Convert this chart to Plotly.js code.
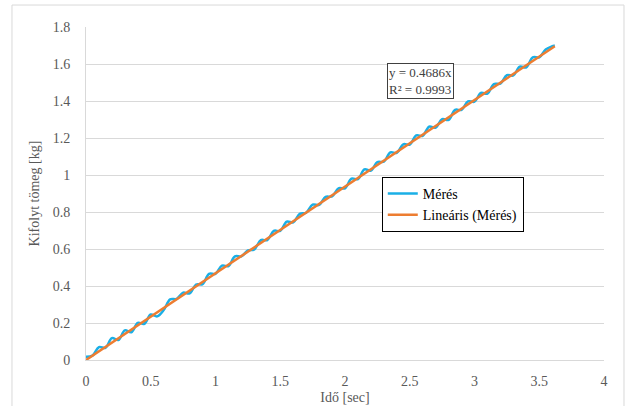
<!DOCTYPE html>
<html>
<head>
<meta charset="utf-8">
<script src="https://cdn.plot.ly/plotly-3.0.1.min.js"></script>
<style>html,body{margin:0;padding:0;background:#fff;}#chart{width:632px;height:406px;}</style>
</head>
<body>
<div id="chart"></div>
<script>
// Measured data (Idő [sec], Kifolyt tömeg [kg])
const timeSec = [0,0.05,0.1,0.15,0.2,0.25,0.3,0.35,0.4,0.45,0.5,0.55,0.6,0.65,0.7,0.75,0.8,0.85,0.9,0.95,
  1.0,1.05,1.1,1.15,1.2,1.25,1.3,1.35,1.4,1.45,1.5,1.55,1.6,1.65,1.7,1.75,1.8,1.85,1.9,1.95,
  2.0,2.05,2.1,2.15,2.2,2.25,2.3,2.35,2.4,2.45,2.5,2.55,2.6,2.65,2.7,2.75,2.8,2.85,2.9,2.95,
  3.0,3.05,3.1,3.15,3.2,3.25,3.3,3.35,3.4,3.45,3.5,3.55,3.6,3.62];
const massKg = [0.018,0.024,0.070,0.066,0.118,0.108,0.160,0.150,0.200,0.196,0.246,0.236,0.270,0.328,0.330,0.364,0.360,0.408,0.410,0.466,
  0.466,0.510,0.508,0.560,0.560,0.592,0.598,0.648,0.648,0.698,0.698,0.748,0.744,0.790,0.796,0.840,0.838,0.882,0.884,0.928,
  0.928,0.980,0.978,1.030,1.024,1.070,1.072,1.122,1.120,1.166,1.164,1.214,1.212,1.262,1.256,1.302,1.298,1.352,1.352,1.398,
  1.396,1.444,1.440,1.492,1.494,1.540,1.538,1.586,1.582,1.636,1.636,1.678,1.696,1.700];
// Linear trendline (y = 0.4686x)
const trendX = [0, 3.62];
const trendY = [0, 1.6963];
const xTickVals = [0,0.5,1,1.5,2,2.5,3,3.5,4];
const yTickVals = [0,0.2,0.4,0.6,0.8,1,1.2,1.4,1.6,1.8];

const font = "Liberation Serif";
const traces = [
  {x: timeSec, y: massKg, type: 'scatter', mode: 'lines', name: 'Mérés',
   line: {color: '#1AAFE6', width: 2.5, shape: 'spline', smoothing: 1}},
  {x: trendX, y: trendY, type: 'scatter', mode: 'lines', name: 'Lineáris (Mérés)',
   line: {color: '#ED7D31', width: 2.5}}
];
const layout = {
  width: 632, height: 406,
  margin: {l: 86, r: 28, t: 27, b: 46},
  paper_bgcolor: '#fff', plot_bgcolor: '#fff',
  font: {family: font, size: 13, color: '#595959'},
  showlegend: true,
  legend: {x: 0.571, y: 0.55, xanchor: 'left', yanchor: 'top', bgcolor: '#fff',
    bordercolor: '#000', borderwidth: 1, font: {family: font, size: 14, color: '#000'},
    itemwidth: 30, tracegroupgap: 0},
  xaxis: {range: [0, 4], tickvals: xTickVals, ticktext: xTickVals.map(String),
    showgrid: false, zeroline: false, showline: true, linecolor: '#d9d9d9', linewidth: 1,
    ticks: '', ticklabelstandoff: 8, tickfont: {family: font, size: 14, color: '#595959'},
    title: {text: 'Idő [sec]', font: {family: font, size: 14, color: '#595959'}, standoff: 4}},
  yaxis: {range: [0, 1.8], tickvals: yTickVals, ticktext: yTickVals.map(String),
    showgrid: true, gridcolor: '#d9d9d9', gridwidth: 1, zeroline: false,
    showline: true, linecolor: '#d9d9d9', linewidth: 1, ticks: '', ticklabelstandoff: 12,
    tickfont: {family: font, size: 14, color: '#595959'},
    title: {text: 'Kifolyt tömeg [kg]', font: {family: font, size: 14, color: '#595959'}, standoff: 9}},
  annotations: [{xref: 'paper', yref: 'paper', x: 0.645, y: 0.839, xanchor: 'center', yanchor: 'middle',
    text: 'y = 0.4686x<br>R² = 0.9993', showarrow: false, align: 'left',
    font: {family: font, size: 13, color: '#404040'}, bordercolor: '#404040', borderwidth: 1,
    bgcolor: '#fff', borderpad: 1}],
  shapes: [{type: 'rect', xref: 'paper', yref: 'paper', x0: -0.1429, x1: 1.0386, y0: -0.3, y1: 1.066,
    line: {color: '#d9d9d9', width: 1}, fillcolor: 'rgba(0,0,0,0)', layer: 'below'}]
};
Plotly.newPlot('chart', traces, layout, {displayModeBar: false, staticPlot: true});
</script>
</body>
</html>
